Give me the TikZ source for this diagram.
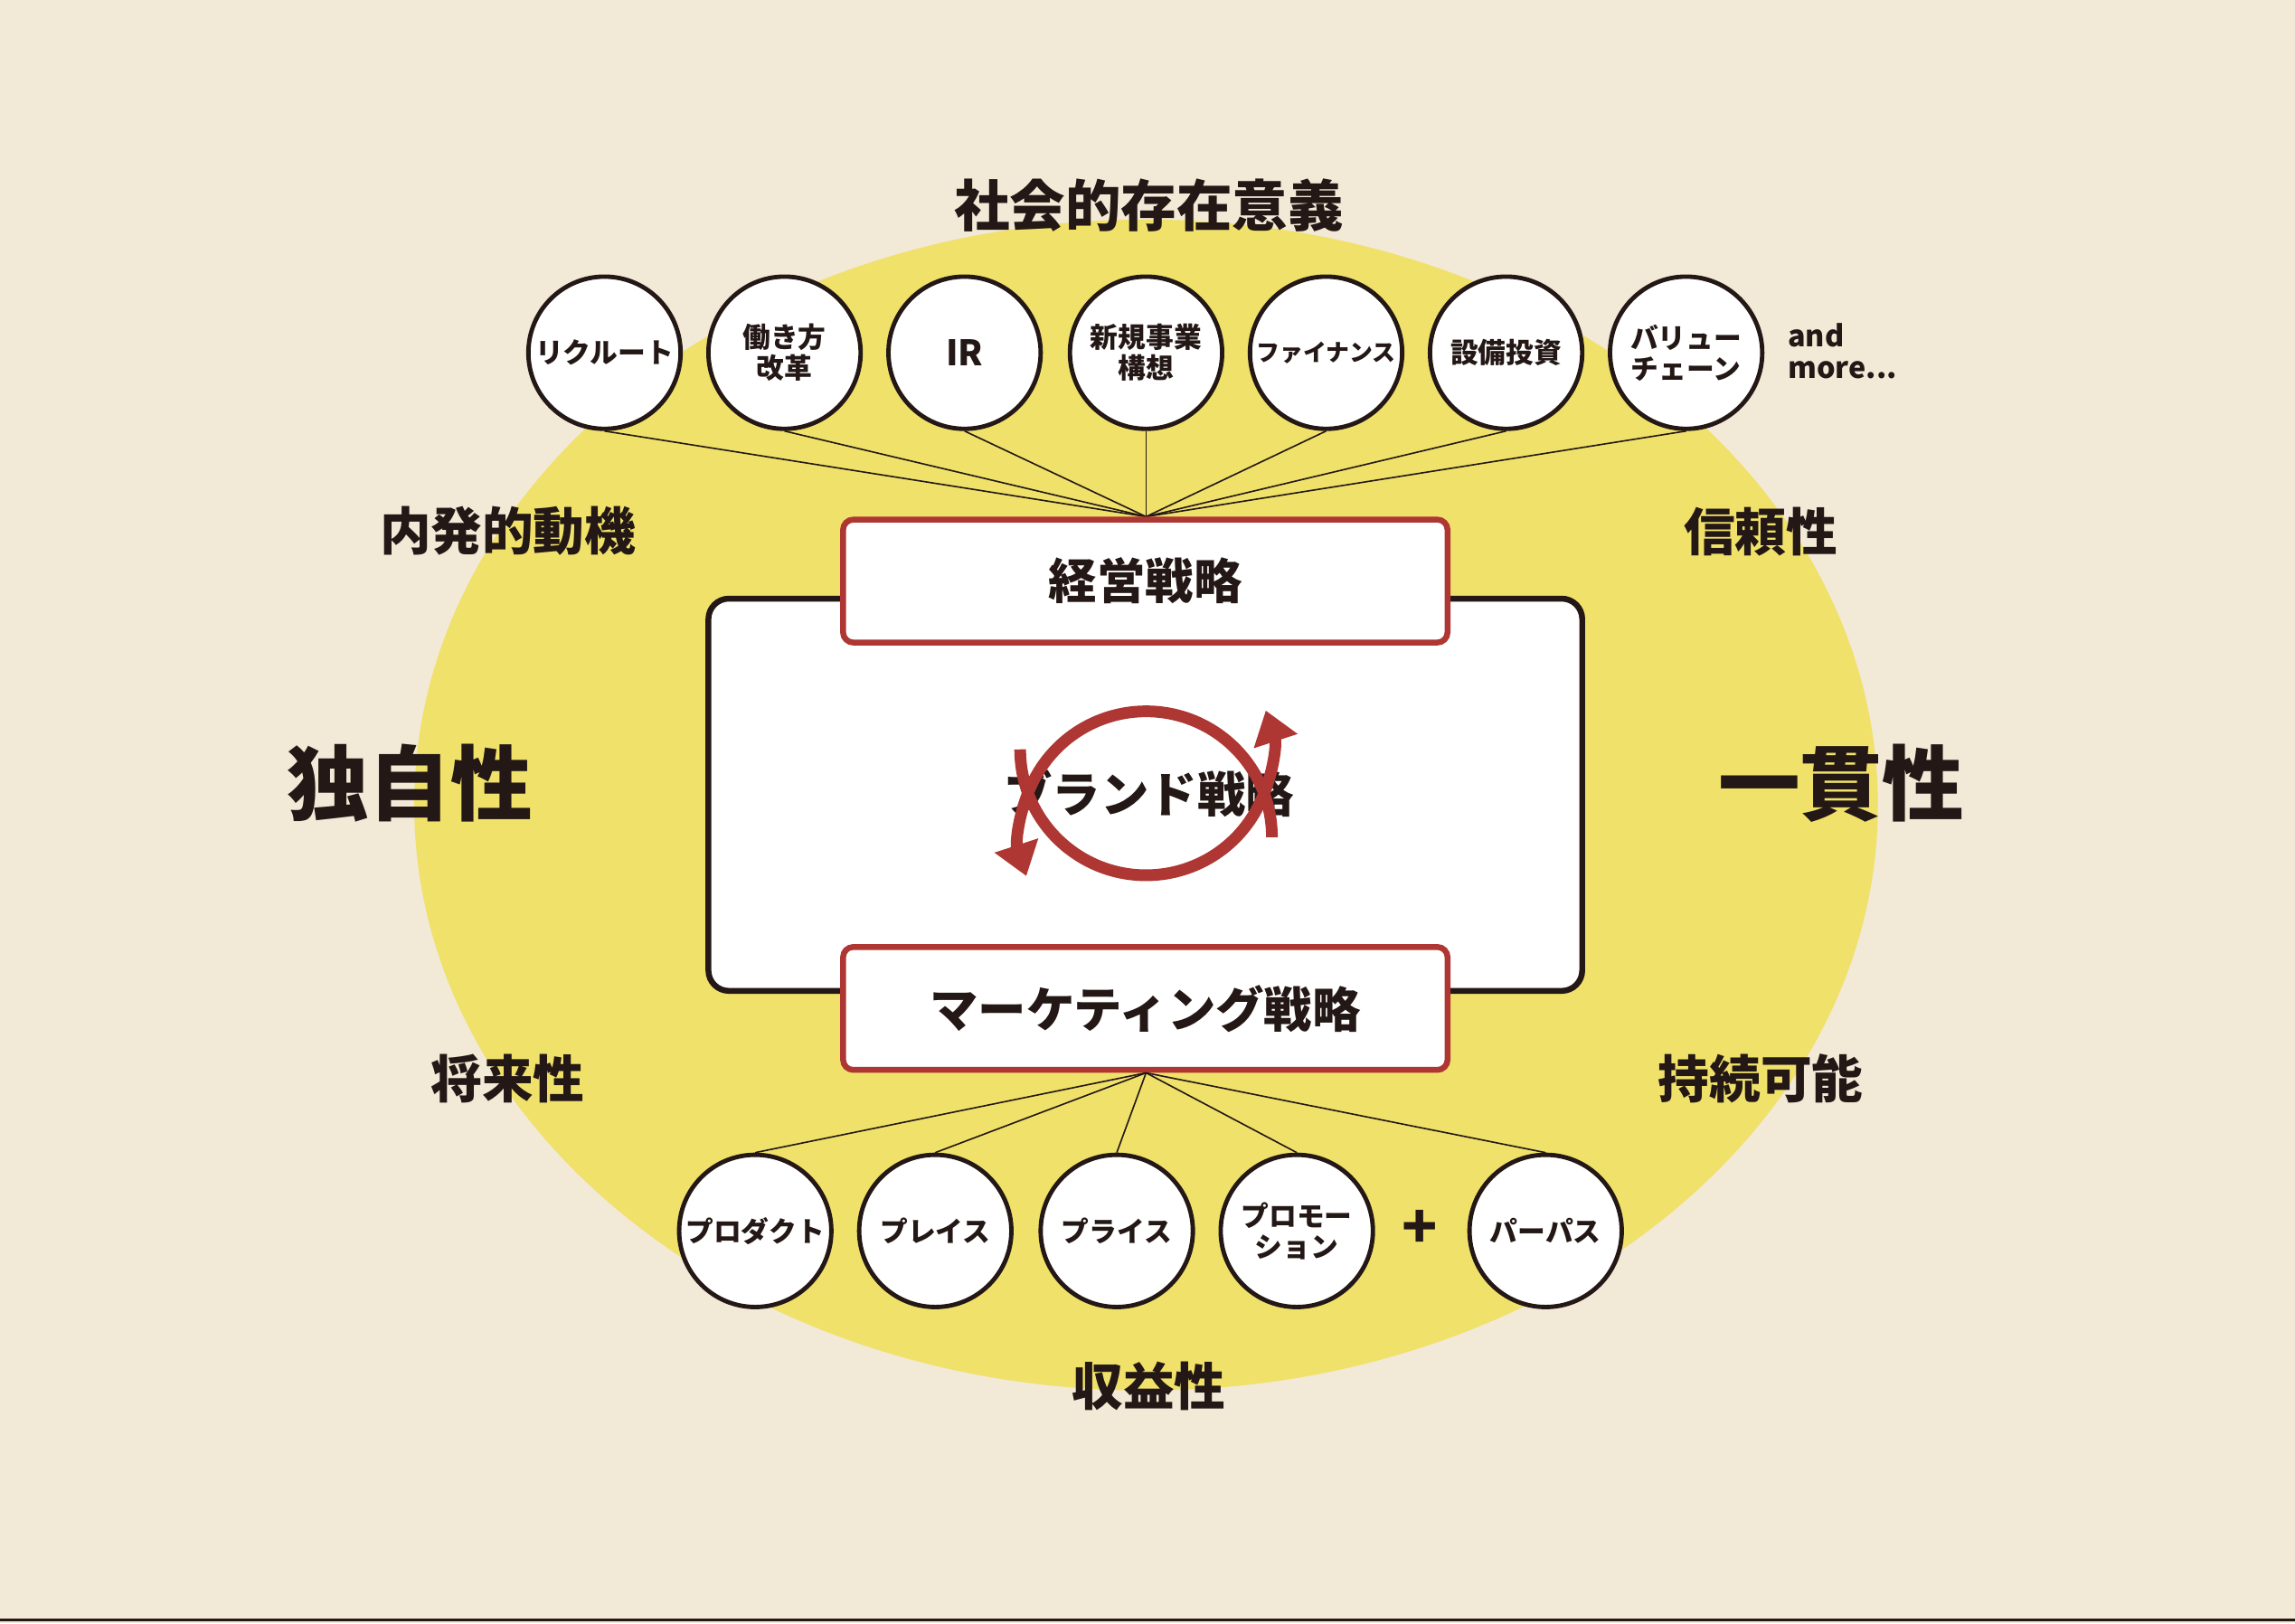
\documentclass[tikz,border=0pt]{standalone}
\usepackage{fontspec}
\setmainfont{Noto Sans CJK JP}
\usetikzlibrary{arrows.meta}
\definecolor{bg}{HTML}{F3E9D7}
\definecolor{yel}{HTML}{F0E16B}
\definecolor{rd}{HTML}{AE3733}
\definecolor{ink}{HTML}{231815}
\tikzset{
 circ/.style={circle,draw=ink,line width=3pt,fill=white,minimum size=104pt,inner sep=0pt,align=center,font=\fontsize{19}{21}\selectfont\bfseries,text=ink},
 redbox/.style={draw=rd,line width=4pt,rounded corners=7pt,fill=white,minimum width=413pt,minimum height=84pt,font=\fontsize{33}{36}\selectfont\bfseries,text=ink},
 lbl/.style={font=\fontsize{35}{38}\selectfont\bfseries,text=ink},
 big/.style={font=\fontsize{56}{60}\selectfont\bfseries,text=ink},
 conn/.style={draw=ink,line width=1pt},
 arr/.style={draw=rd,line width=8pt,-{Triangle[width=30pt,length=22pt]}}
}
\begin{document}
\begin{tikzpicture}[x=1pt,y=-1pt]
\fill[bg] (0,0) rectangle (1568,1109);
\useasboundingbox (0,0) rectangle (1568,1109);
\draw[ink,line width=2pt] (0,1107) -- (1568,1107);
\fill[yel] (783,550) ellipse [x radius=500, y radius=400];
\node[lbl,font=\fontsize{38}{40}\selectfont\bfseries] (title) at (785,140) {社会的存在意義};
\coordinate (hubT) at (783,353);
\coordinate (hubB) at (783,733);
\foreach \x/\t/\n in {413/リクルート/a,536/{働き方\\改革}/b,659/{\fontsize{24}{26}\selectfont IR}/c,783/{新規事業\\構想}/d,906/{\fontsize{16}{18}\selectfont ファイナンス}/e,1029/設備投資/f,1152/{バリュー\\チェーン}/g}{
 \node[circ] (t\n) at (\x,241) {\t};
 \draw[conn] (t\n.south) -- (hubT);
}
\node[anchor=west,align=left,font=\fontsize{20}{22}\selectfont\bfseries,text=ink] (more) at (1218,240) {and\\more...};
\draw[ink,line width=4pt,fill=white,rounded corners=14pt] (484,409) rectangle (1081,677);
\node[redbox] (keiei) at (782.5,397) {経営戦略};
\node[redbox] (mkt) at (782.5,689) {マーケティング戦略};
\node[font=\fontsize{33}{36}\selectfont\bfseries,text=ink] (brand) at (785,542) {ブランド戦略};
\draw[arr] (697,512) arc[start angle=180,end angle=-18,radius=86];
\draw[arr] (869,572) arc[start angle=0,end angle=-198,radius=86];
\foreach \x/\t/\n in {516/プロダクト/p,639/プレイス/q,763/プライス/r,886/{プロモー\\ション}/s,1056/パーパス/u}{
 \node[circ] (b\n) at (\x,841) {\t};
}
\foreach \n in {p,q,r,s,u}{\draw[conn] (hubB) -- (b\n.north);}
\node[font=\fontsize{40}{40}\selectfont\bfseries,text=ink] (plus) at (970,840) {+};
\node[lbl] (l1) at (347,363) {内発的動機};
\node[big] (l2) at (280,535) {独自性};
\node[lbl] (l3) at (347,737) {将来性};
\node[lbl] (r1) at (1203,363) {信頼性};
\node[big] (r2) at (1258,535) {一貫性};
\node[lbl] (r3) at (1203,737) {持続可能};
\node[lbl] (bot) at (785,947) {収益性};
\end{tikzpicture}
\end{document}
